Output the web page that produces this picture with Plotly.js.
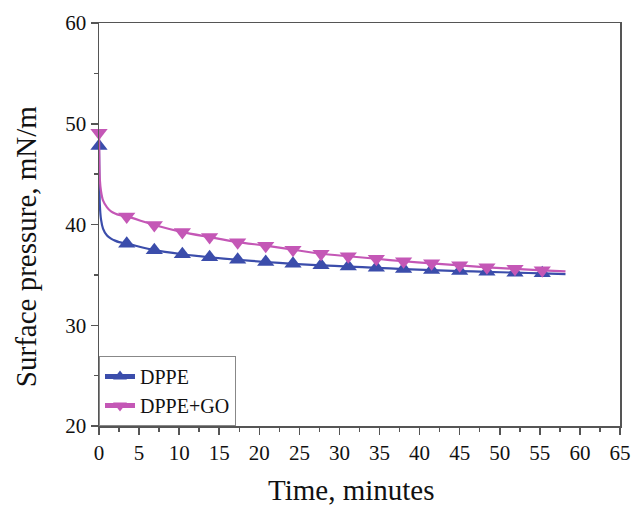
<!DOCTYPE html>
<html>
<head>
<meta charset="utf-8">
<script src="https://cdn.plot.ly/plotly-3.0.1.min.js"></script>
<style>html,body{margin:0;padding:0;background:#fff;}#chart{width:635px;height:508px;}</style>
</head>
<body>
<div id="chart"></div>
<script>
// Time (minutes) of curve points
const timeMin = [0, 0.05, 0.1, 0.25, 0.5, 1, 1.5, 2, 2.5, 3.46, 6.9, 10.4, 13.8, 17.3, 20.8, 24.2, 27.7, 31.1, 34.6, 38.0, 41.5, 45.0, 48.4, 51.9, 55.3, 58.2];
// Times where symbols are drawn
const markerTimes = [0, 3.46, 6.9, 10.4, 13.8, 17.3, 20.8, 24.2, 27.7, 31.1, 34.6, 38.0, 41.5, 45.0, 48.4, 51.9, 55.3];
// Surface pressure, mN/m
const dppe   = [47.8, 44.0, 42.0, 40.5, 39.6, 38.9, 38.6, 38.4, 38.25, 38.1, 37.45, 37.05, 36.75, 36.5, 36.28, 36.1, 35.95, 35.82, 35.7, 35.58, 35.48, 35.38, 35.3, 35.22, 35.15, 35.08];
const dppeGO = [49.1, 46.0, 44.5, 43.3, 42.4, 41.7, 41.3, 41.1, 40.95, 40.8, 39.95, 39.25, 38.75, 38.25, 37.9, 37.5, 37.1, 36.85, 36.6, 36.35, 36.15, 35.95, 35.75, 35.6, 35.45, 35.35];
const seriesNames = ['DPPE', 'DPPE+GO'];
const xTicks = [0,5,10,15,20,25,30,35,40,45,50,55,60,65];
const yTicks = [20,30,40,50,60];
const xTitle = 'Time, minutes';
const yTitle = 'Surface pressure, mN/m';

const sizes = timeMin.map(t => markerTimes.includes(t) ? 15 : 0);
const font = 'Liberation Serif';
const axisCol = '#555555';

const traces = [
  {x: timeMin, y: dppe, name: seriesNames[0], mode: 'lines+markers', cliponaxis: false,
   line: {color: '#3b4dab', width: 2.2, shape: 'spline', smoothing: 0.6},
   marker: {symbol: 'triangle-up', size: sizes, color: '#3b4dab', opacity: 1, line: {width: 0}}},
  {x: timeMin, y: dppeGO, name: seriesNames[1], mode: 'lines+markers', cliponaxis: false,
   line: {color: '#c457b6', width: 2.2, shape: 'spline', smoothing: 0.6},
   marker: {symbol: 'triangle-down', size: sizes, color: '#c457b6', opacity: 1, line: {width: 0}}}
];

const layout = {
  width: 635, height: 508,
  margin: {l: 99, r: 15, t: 23, b: 82},
  paper_bgcolor: '#fff', plot_bgcolor: '#fff',
  font: {family: font, color: '#1a1a1a'},
  showlegend: true,
  legend: {x: 0, y: 0, xanchor: 'left', yanchor: 'bottom', bgcolor: '#fff',
           bordercolor: '#888', borderwidth: 1, itemsizing: 'constant',
           font: {family: font, size: 20, color: '#111'}, tracegroupgap: 0},
  xaxis: {range: [0, 65], tickvals: xTicks, ticktext: xTicks.map(String),
          showgrid: false, zeroline: false, showline: true, linecolor: axisCol, linewidth: 1.5,
          mirror: true, ticks: 'outside', ticklen: 7, tickwidth: 1.5, tickcolor: axisCol,
          minor: {dtick: 2.5, tick0: 0, ticks: 'outside', ticklen: 4, tickwidth: 1.5, tickcolor: axisCol},
          tickfont: {family: font, size: 21, color: '#111'}},
  yaxis: {range: [20, 60], tickvals: yTicks, ticktext: yTicks.map(String),
          showgrid: false, zeroline: false, showline: true, linecolor: axisCol, linewidth: 1.5,
          mirror: true, ticks: 'outside', ticklen: 7, tickwidth: 1.5, tickcolor: axisCol,
          minor: {dtick: 5, tick0: 0, ticks: 'outside', ticklen: 4, tickwidth: 1.5, tickcolor: axisCol},
          tickfont: {family: font, size: 21, color: '#111'}},
  annotations: [
    {text: xTitle, xref: 'paper', yref: 'paper', x: 0.4837, y: -0.158, xanchor: 'center', yanchor: 'middle',
     showarrow: false, font: {family: font, size: 29, color: '#111'}},
    {text: yTitle, xref: 'paper', yref: 'paper', x: -0.14, y: 0.444, xanchor: 'center', yanchor: 'middle',
     textangle: -90, showarrow: false, font: {family: font, size: 29, color: '#111'}}
  ]
};

Plotly.newPlot('chart', traces, layout, {displayModeBar: false, staticPlot: true});
</script>
</body>
</html>
